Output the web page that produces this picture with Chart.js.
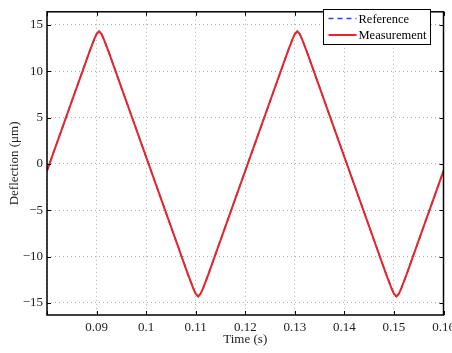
<!DOCTYPE html>
<html lang="en">
<head>
  <meta charset="UTF-8">
  <title>Deflection vs time</title>
  <script src="https://cdn.jsdelivr.net/npm/chart.js"></script>
  <style>
    body { margin: 0; background: white; overflow: hidden; }
    #wrap { width: 452px; height: 353px; position: relative; }
  </style>
</head>
<body>
<div id="wrap"><canvas id="chart" width="452" height="353"></canvas></div>
<script>
// time axis (s) and deflection (um)
const timeS = [
  0.08, 0.0805, 0.0885, 0.089, 0.0895, 0.09, 0.0905, 0.091, 0.0915, 0.092, 0.0925,
  0.1005, 0.1085, 0.109, 0.1095, 0.11, 0.1105, 0.111, 0.1115, 0.112, 0.1125,
  0.1205, 0.1285, 0.129, 0.1295, 0.13, 0.1305, 0.131, 0.1315, 0.132, 0.1325,
  0.1405, 0.1485, 0.149, 0.1495, 0.15, 0.1505, 0.151, 0.1515, 0.152, 0.1525,
  0.16
];
const measurement = [
  -0.75, 0, 12.0, 12.7, 13.4, 14.0, 14.3, 14.0, 13.4, 12.7, 12.0,
  0, -12.0, -12.7, -13.4, -14.0, -14.3, -14.0, -13.4, -12.7, -12.0,
  0, 12.0, 12.7, 13.4, 14.0, 14.3, 14.0, 13.4, 12.7, 12.0,
  0, -12.0, -12.7, -13.4, -14.0, -14.3, -14.0, -13.4, -12.7, -12.0,
  -0.75
];
const reference = [
  -0.75, 0, 12.0, 12.7, 13.4, 14.0, 14.3, 14.0, 13.4, 12.7, 12.0,
  0, -12.0, -12.7, -13.4, -14.0, -14.3, -14.0, -13.4, -12.7, -12.0,
  0, 12.0, 12.7, 13.4, 14.0, 14.3, 14.0, 13.4, 12.7, 12.0,
  0, -12.0, -12.7, -13.4, -14.0, -14.3, -14.0, -13.4, -12.7, -12.0,
  -0.75
];
const xTicks = [0.08, 0.09, 0.1, 0.11, 0.12, 0.13, 0.14, 0.15, 0.16];
const xTickLabels = ['', '0.09', '0.1', '0.11', '0.12', '0.13', '0.14', '0.15', '0.16'];
const yTicks = [-15, -10, -5, 0, 5, 10, 15];
const yTickLabels = ['\u221215', '\u221210', '\u22125', '0', '5', '10', '15'];

const FONT = '"Liberation Serif", "DejaVu Serif", serif';

function pts(ys) {
  return timeS.map((t, i) => ({ x: t, y: ys[i] }));
}

// MATLAB style box, inward ticks and legend inside the axes
const boxPlugin = {
  id: 'boxPlugin',
  afterDraw(chart) {
    const ctx = chart.ctx;
    const a = chart.chartArea;
    const xs = chart.scales.x, ys = chart.scales.y;
    ctx.save();
    ctx.strokeStyle = '#000';
    ctx.lineWidth = 1;
    ctx.beginPath();
    xTicks.forEach(v => {
      const px = Math.round(xs.getPixelForValue(v)) + 0.5;
      ctx.moveTo(px, a.bottom); ctx.lineTo(px, a.bottom - 4);
      ctx.moveTo(px, a.top); ctx.lineTo(px, a.top + 4);
    });
    yTicks.forEach(v => {
      const py = Math.round(ys.getPixelForValue(v)) + 0.5;
      ctx.moveTo(a.left, py); ctx.lineTo(a.left + 4, py);
      ctx.moveTo(a.right, py); ctx.lineTo(a.right - 4, py);
    });
    ctx.stroke();
    ctx.lineWidth = 1.5;
    ctx.strokeRect(a.left, a.top, a.right - a.left, a.bottom - a.top);

    // legend
    const lx = 323.5, ly = 9.5, lw = 107, lh = 35;
    ctx.fillStyle = '#fff';
    ctx.fillRect(lx, ly, lw, lh);
    ctx.lineWidth = 1;
    ctx.strokeStyle = '#000';
    ctx.strokeRect(lx, ly, lw, lh);
    const ds = chart.data.datasets;
    const rows = [ly + 9, ly + 25.5];
    ds.slice().reverse().forEach((d, i) => {
      ctx.strokeStyle = d.borderColor;
      ctx.lineWidth = d.borderWidth;
      ctx.setLineDash(d.borderDash || []);
      ctx.beginPath();
      ctx.moveTo(lx + 5, rows[i]); ctx.lineTo(lx + 33, rows[i]);
      ctx.stroke();
      ctx.setLineDash([]);
      ctx.fillStyle = '#000';
      ctx.font = '12.5px ' + FONT;
      ctx.textBaseline = 'middle';
      ctx.fillText(d.label, lx + 35, rows[i] + 1);
    });
    ctx.restore();
  }
};

new Chart(document.getElementById('chart'), {
  type: 'line',
  data: {
    datasets: [
      { label: 'Measurement', data: pts(measurement), borderColor: '#e8262a', borderWidth: 2, pointRadius: 0, tension: 0 },
      { label: 'Reference', data: pts(reference), borderColor: '#1f4fc0', borderWidth: 1.5, borderDash: [5, 4], pointRadius: 0, tension: 0 }
    ]
  },
  options: {
    responsive: false,
    animation: false,
    layout: { padding: { left: 0, top: 4, right: 8.5, bottom: 6 } },
    plugins: { legend: { display: false }, tooltip: { enabled: false } },
    scales: {
      x: {
        type: 'linear',
        min: 0.08, max: 0.16,
        afterBuildTicks: s => { s.ticks = xTicks.map(v => ({ value: v })); },
        afterFit: s => { s.height = 32; s.paddingLeft = 0; s.paddingRight = 0; },
        grid: { color: '#b0b0b0', lineWidth: 1, drawTicks: false },
        border: { display: false, dash: [1, 3] },
        ticks: {
          padding: 5, color: '#222', maxRotation: 0, autoSkip: false,
          font: { family: FONT, size: 13 },
          callback: (v, i) => xTickLabels[i]
        },
        title: { display: true, text: 'Time (s)', color: '#222', font: { family: FONT, size: 13 }, padding: { top: 0, bottom: 0 } }
      },
      y: {
        min: -16.3, max: 16.4,
        afterBuildTicks: s => { s.ticks = yTicks.map(v => ({ value: v })); },
        afterFit: s => { s.width = 47; },
        grid: { color: '#b0b0b0', lineWidth: 1, drawTicks: false },
        border: { display: false, dash: [1, 3] },
        ticks: {
          padding: 4, color: '#222',
          font: { family: FONT, size: 13 },
          callback: (v, i) => yTickLabels[i]
        },
        title: { display: true, text: 'Deflection (\u03bcm)', color: '#222', font: { family: FONT, size: 13 }, padding: { top: 7, bottom: 0 } }
      }
    }
  },
  plugins: [boxPlugin]
});
</script>
</body>
</html>
